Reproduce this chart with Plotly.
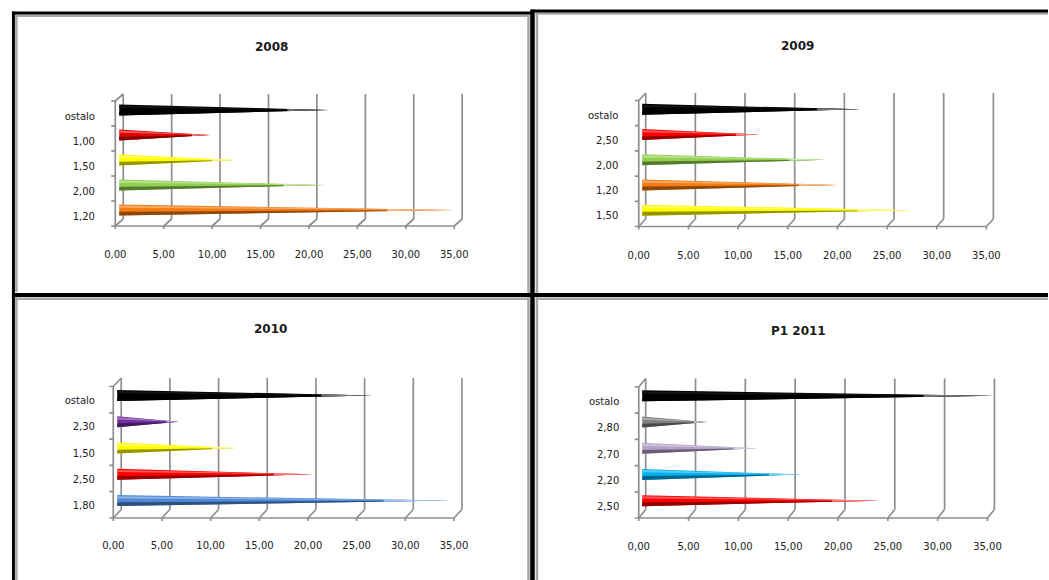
import plotly.graph_objects as go

W, H = 1049, 580

# ---------------- data ----------------
titles = ["2008", "2009", "2010", "P1 2011"]

cats_2008 = ["ostalo", "1,00", "1,50", "2,00", "1,20"]
vals_2008 = [21.7, 9.4, 12.0, 21.2, 34.6]
cols_2008 = ["#000000", "#e00000", "#ffff00", "#92d050", "#f57c12"]

cats_2009 = ["ostalo", "2,50", "2,00", "1,20", "1,50"]
vals_2009 = [22.0, 11.8, 18.5, 19.7, 27.1]
cols_2009 = ["#000000", "#ff0000", "#92d050", "#f57c12", "#ffff00"]

cats_2010 = ["ostalo", "2,30", "1,50", "2,50", "1,80"]
vals_2010 = [26.2, 6.3, 12.2, 20.1, 34.2]
cols_2010 = ["#000000", "#7030a0", "#ffff00", "#ff0000", "#4f8ad8"]

cats_2011 = ["ostalo", "2,80", "2,70", "2,20", "2,50"]
vals_2011 = [35.3, 6.5, 11.5, 15.9, 23.8]
cols_2011 = ["#000000", "#808080", "#b3a2c7", "#00b0f0", "#ff0000"]

x_ticks = [0, 5, 10, 15, 20, 25, 30, 35]
x_tick_labels = ["0,00", "5,00", "10,00", "15,00", "20,00", "25,00", "30,00", "35,00"]

series = [
    (cats_2008, vals_2008, cols_2008),
    (cats_2009, vals_2009, cols_2009),
    (cats_2010, vals_2010, cols_2010),
    (cats_2011, vals_2011, cols_2011),
]

# ---------------- layout geometry (pixels) ----------------
panels = [
    dict(x0=110, ppu=9.75, yf=226, slot=25.0, dx=8, dy=7, tx=267, ty=47, lab_y=255, lab_r=89, lab_dy=2.5),
    dict(x0=637, ppu=10.0, yf=226.5, slot=25.2, dx=7, dy=7.5, tx=797, ty=46, lab_y=255, lab_r=616, lab_dy=2.0),
    dict(x0=108, ppu=9.8, yf=518, slot=26.3, dx=8, dy=8.5, tx=266, ty=329, lab_y=546, lab_r=89, lab_dy=1.0),
    dict(x0=637, ppu=10.03, yf=518, slot=26.2, dx=7, dy=8.5, tx=798, ty=331, lab_y=547, lab_r=616, lab_dy=1.5),
]

GRID = "#8e8e8e"
FONT = "DejaVu Sans"


def hex2rgb(h):
    h = h.lstrip("#")
    return [int(h[i:i + 2], 16) for i in (0, 2, 4)]


def rgb2hex(c):
    return "#%02x%02x%02x" % tuple(max(0, min(255, int(round(v)))) for v in c)


def darken(h, f):
    return rgb2hex([v * (1 - f) for v in hex2rgb(h)])


def lighten(h, f):
    return rgb2hex([v + (255 - v) * f for v in hex2rgb(h)])


fig = go.Figure()
layout_axes = {}

for k, (p, (cats, vals, cols)) in enumerate(zip(panels, series), start=1):
    xa = "x" if k == 1 else f"x{k}"
    ya = "y" if k == 1 else f"y{k}"
    ppu, slot = p["ppu"], p["slot"]
    dxu = p["dx"] / ppu
    dyu = p["dy"] / slot
    n = len(cats)
    top = n - 0.5
    xmin = -0.55
    xmax = x_ticks[-1] + dxu + 0.6
    ymin = -0.5 - 5.0 / slot
    ymax = top + dyu + 3.0 / slot

    px_left = p["x0"] + xmin * ppu
    px_right = p["x0"] + xmax * ppu
    py_bottom = p["yf"] - (ymin + 0.5) * slot
    py_top = p["yf"] - (ymax + 0.5) * slot

    # ---- walls / gridlines (3D frame) ----
    gx, gy = [], []
    for t in x_ticks:
        gx += [t + dxu, t + dxu, None]
        gy += [-0.5 + dyu, top + dyu, None]
        gx += [t, t + dxu, None]
        gy += [-0.5, -0.5 + dyu, None]
        gx += [t, t, None]
        gy += [-0.5, -0.5 - 3.0 / slot, None]
    gx += [0, x_ticks[-1], None]
    gy += [-0.5, -0.5, None]
    gx += [0, 0, dxu, None]
    gy += [-0.5, top, top + dyu, None]
    for b in range(n + 1):
        yb = b - 0.5
        gx += [-4.0 / ppu, 0, None]
        gy += [yb, yb, None]

    fig.add_trace(go.Scatter(
        x=gx, y=gy, mode="lines", xaxis=xa, yaxis=ya,
        line=dict(color=GRID, width=1.7), hoverinfo="skip", showlegend=False))

    # ---- cones ----
    h = 5.5 / slot
    lx = dxu / 2
    for j, (c, v, col) in enumerate(zip(cats, vals, cols)):
        cy = (n - 1 - j) + dyu / 2
        tip = v + dxu / 2
        if col == "#000000":
            dark, light, fade = "#000000", "#141414", "#7a7a7a"
        else:
            dark, light, fade = darken(col, 0.42), lighten(col, 0.35), lighten(col, 0.5)
        xf = lx + 0.8 * (tip - lx)
        polys = [
            ([lx, lx, tip, lx], [cy - h, cy + h, cy, cy - h], col),
            ([lx, lx, tip, lx], [cy - h, cy - 0.3 * h, cy, cy - h], dark),
            ([lx, lx, tip, lx], [cy + 0.8 * h, cy + 0.4 * h, cy, cy + 0.8 * h], light),
            ([xf, xf, tip, xf], [cy - 0.2 * h, cy + 0.2 * h, cy, cy - 0.2 * h], fade),
        ]
        for xs, ys, fc in polys:
            fig.add_trace(go.Scatter(
                x=xs, y=ys, mode="lines", fill="toself", fillcolor=fc,
                line=dict(width=0, color=fc), xaxis=xa, yaxis=ya,
                name=c, hovertemplate=f"{c}: {v:.2f}<extra></extra>", showlegend=False))

    layout_axes["xaxis" if k == 1 else f"xaxis{k}"] = dict(
        domain=[px_left / W, px_right / W], range=[xmin, xmax], anchor=ya,
        tickvals=x_ticks, ticktext=x_tick_labels, showgrid=False, zeroline=False,
        showline=False, ticks="", ticklabelstandoff=int(round(max(0, p["lab_y"] - 6 - py_bottom - 2))),
        tickfont=dict(family=FONT, size=10, color="#222222"), fixedrange=True)
    layout_axes["yaxis" if k == 1 else f"yaxis{k}"] = dict(
        domain=[1 - py_bottom / H, 1 - py_top / H], range=[ymin, ymax], anchor=xa,
        tickvals=[n - 1 - j - p["lab_dy"] / slot for j in range(n)], ticktext=cats, showgrid=False,
        zeroline=False, showline=False, ticks="",
        ticklabelstandoff=int(round(max(0, px_left - p["lab_r"] - 2))),
        tickfont=dict(family=FONT, size=10, color="#222222"), fixedrange=True)

# ---------------- titles ----------------
annotations = []
for p, t in zip(panels, titles):
    annotations.append(dict(
        text=f"<b>{t}</b>", x=p["tx"] / W, y=1 - p["ty"] / H, xref="paper", yref="paper",
        showarrow=False, xanchor="center", yanchor="middle",
        font=dict(family=FONT, size=12, color="#1a1a1a")))

# ---------------- panel frames ----------------
def pline(x1, y1, x2, y2, color, width):
    return dict(type="line", xref="paper", yref="paper",
                x0=x1 / W, y0=1 - y1 / H, x1=x2 / W, y1=1 - y2 / H,
                line=dict(color=color, width=width), layer="above")

GR = "#a8a8a8"
shapes = [
    pline(10.5, 14.5, 10.5, 292, GR, 2.5),
    pline(9, 15.8, 527, 15.8, GR, 2.5),
    pline(526, 15, 526, 293, GR, 2.5),
    pline(534.5, 12.5, 534.5, 293, GR, 2.5),
    pline(533, 13.5, 1049, 13.5, GR, 2.5),
    pline(9, 298.8, 527, 298.8, GR, 2.5),
    pline(10.5, 297, 10.5, 580, GR, 2.5),
    pline(526, 297, 526, 580, GR, 2.5),
    pline(535, 298.8, 1049, 298.8, GR, 2.5),
    pline(534.5, 297, 534.5, 580, GR, 2.5),
    pline(7.5, 11.5, 7.5, 580, "#000000", 3),
    pline(6, 13, 531, 13, "#000000", 3),
    pline(529, 11, 1049, 11, "#000000", 3),
    pline(530, 9.5, 530, 580, "#000000", 4.5),
    pline(6, 295, 1049, 295, "#000000", 4),
]

fig.update_layout(
    width=W, height=H, margin=dict(l=0, r=0, t=0, b=0),
    paper_bgcolor="white", plot_bgcolor="rgba(0,0,0,0)",
    showlegend=False, annotations=annotations, shapes=shapes,
    font=dict(family=FONT), **layout_axes)

fig.write_html("out.html", config={"displayModeBar": False},
               post_script="document.body.style.margin='0';document.body.style.overflow='hidden';")
